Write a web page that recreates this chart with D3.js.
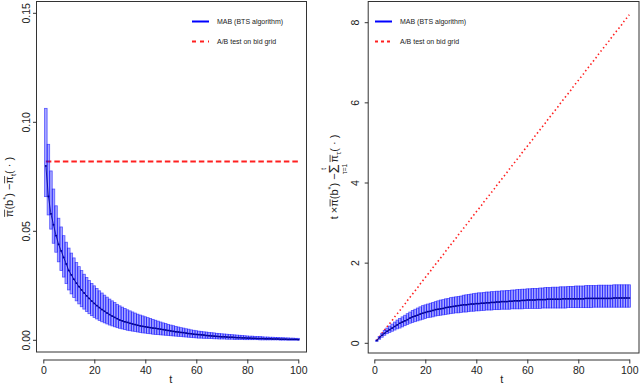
<!DOCTYPE html>
<html>
<head>
<meta charset="utf-8">
<script src="https://cdn.jsdelivr.net/npm/d3@7"></script>
<style>
  body { margin: 0; background: #fff; }
  svg { display: block; font-family: "Liberation Sans", Arial, sans-serif; }
</style>
</head>
<body>
<svg id="chart" width="640" height="384"></svg>
<script>
// time steps t = 1..100
const steps = d3.range(1, 101);

// left panel: instantaneous regret (mean and band), A/B test level
const abLevel = 0.082;
const mabMean = [
  0.0800, 0.0660, 0.0580, 0.0530, 0.0480, 0.0440, 0.0410, 0.0380, 0.0350, 0.0320,
  0.0300, 0.0280, 0.0262, 0.0246, 0.0231, 0.0217, 0.0204, 0.0192, 0.0180, 0.0169,
  0.0159, 0.0150, 0.0141, 0.0133, 0.0125, 0.0118, 0.0111, 0.0105, 0.0099, 0.0093,
  0.0089, 0.0085, 0.0082, 0.0078, 0.0075, 0.0072, 0.0069, 0.0066, 0.0064, 0.0062,
  0.0060, 0.0058, 0.0056, 0.0055, 0.0053, 0.0051, 0.0049, 0.0047, 0.0045, 0.0043,
  0.0041, 0.0039, 0.0038, 0.0036, 0.0035, 0.0033, 0.0031, 0.0030, 0.0028, 0.0027,
  0.0026, 0.0025, 0.0024, 0.0022, 0.0021, 0.0020, 0.0019, 0.0018, 0.0017, 0.0016,
  0.0016, 0.0015, 0.0014, 0.0014, 0.0013, 0.0012, 0.0012, 0.0011, 0.0011, 0.0010,
  0.0010, 0.0009, 0.0009, 0.0008, 0.0008, 0.0008, 0.0007, 0.0007, 0.0007, 0.0006,
  0.0006, 0.0006, 0.0005, 0.0005, 0.0005, 0.0004, 0.0004, 0.0004, 0.0004, 0.0003
];
const mabUpper = [
  0.1064, 0.0899, 0.0777, 0.0694, 0.0617, 0.0560, 0.0520, 0.0480, 0.0450, 0.0423,
  0.0400, 0.0378, 0.0357, 0.0338, 0.0320, 0.0303, 0.0288, 0.0274, 0.0261, 0.0250,
  0.0238, 0.0227, 0.0217, 0.0207, 0.0198, 0.0189, 0.0181, 0.0173, 0.0165, 0.0158,
  0.0152, 0.0146, 0.0140, 0.0135, 0.0130, 0.0125, 0.0120, 0.0116, 0.0112, 0.0108,
  0.0104, 0.0100, 0.0096, 0.0092, 0.0088, 0.0084, 0.0080, 0.0077, 0.0073, 0.0070,
  0.0067, 0.0064, 0.0061, 0.0058, 0.0056, 0.0053, 0.0051, 0.0048, 0.0046, 0.0044,
  0.0042, 0.0041, 0.0039, 0.0038, 0.0036, 0.0035, 0.0034, 0.0032, 0.0031, 0.0030,
  0.0029, 0.0028, 0.0027, 0.0026, 0.0025, 0.0024, 0.0023, 0.0022, 0.0021, 0.0020,
  0.0019, 0.0019, 0.0018, 0.0017, 0.0017, 0.0016, 0.0015, 0.0015, 0.0014, 0.0014,
  0.0013, 0.0013, 0.0012, 0.0012, 0.0011, 0.0011, 0.0010, 0.0010, 0.0009, 0.0009
];
const mabLower = [
  0.0659, 0.0575, 0.0510, 0.0445, 0.0404, 0.0360, 0.0320, 0.0290, 0.0260, 0.0231,
  0.0213, 0.0196, 0.0181, 0.0167, 0.0154, 0.0143, 0.0132, 0.0122, 0.0113, 0.0105,
  0.0098, 0.0091, 0.0085, 0.0080, 0.0075, 0.0070, 0.0066, 0.0062, 0.0058, 0.0055,
  0.0052, 0.0049, 0.0046, 0.0044, 0.0042, 0.0040, 0.0038, 0.0036, 0.0034, 0.0033,
  0.0031, 0.0030, 0.0028, 0.0027, 0.0026, 0.0025, 0.0024, 0.0023, 0.0022, 0.0021,
  0.0020, 0.0019, 0.0018, 0.0017, 0.0016, 0.0015, 0.0014, 0.0013, 0.0012, 0.0011,
  0.0010, 0.0010, 0.0009, 0.0009, 0.0008, 0.0008, 0.0007, 0.0007, 0.0006, 0.0006,
  0.0006, 0.0005, 0.0005, 0.0005, 0.0004, 0.0004, 0.0004, 0.0004, 0.0003, 0.0003,
  0.0003, 0.0003, 0.0003, 0.0003, 0.0002, 0.0002, 0.0002, 0.0002, 0.0002, 0.0002,
  0.0002, 0.0002, 0.0001, 0.0001, 0.0001, 0.0001, 0.0001, 0.0001, 0.0001, 0.0001
];

// right panel: cumulative regret
const cumMean = [
  0.07, 0.14, 0.20, 0.25, 0.30, 0.34, 0.38, 0.42, 0.46, 0.50,
  0.53, 0.56, 0.59, 0.63, 0.66, 0.68, 0.70, 0.73, 0.75, 0.77,
  0.79, 0.80, 0.82, 0.84, 0.85, 0.86, 0.87, 0.89, 0.90, 0.91,
  0.92, 0.93, 0.94, 0.95, 0.96, 0.96, 0.97, 0.98, 0.98, 0.99,
  0.99, 1.00, 1.00, 1.01, 1.01, 1.02, 1.02, 1.03, 1.03, 1.04,
  1.04, 1.04, 1.05, 1.05, 1.06, 1.06, 1.06, 1.07, 1.07, 1.08,
  1.08, 1.08, 1.08, 1.09, 1.09, 1.09, 1.09, 1.10, 1.10, 1.10,
  1.10, 1.10, 1.10, 1.11, 1.11, 1.11, 1.11, 1.11, 1.11, 1.11,
  1.11, 1.11, 1.12, 1.12, 1.12, 1.12, 1.12, 1.12, 1.12, 1.12,
  1.12, 1.12, 1.12, 1.13, 1.13, 1.13, 1.13, 1.13, 1.13, 1.13
];
const cumUpper = [
  0.08, 0.17, 0.25, 0.32, 0.38, 0.43, 0.48, 0.53, 0.58, 0.62,
  0.66, 0.70, 0.74, 0.78, 0.82, 0.85, 0.88, 0.91, 0.94, 0.96,
  0.98, 1.00, 1.02, 1.04, 1.06, 1.08, 1.09, 1.11, 1.12, 1.14,
  1.15, 1.16, 1.17, 1.18, 1.20, 1.21, 1.22, 1.23, 1.24, 1.25,
  1.26, 1.26, 1.27, 1.28, 1.28, 1.29, 1.29, 1.30, 1.30, 1.31,
  1.31, 1.32, 1.32, 1.33, 1.33, 1.34, 1.34, 1.35, 1.35, 1.36,
  1.36, 1.37, 1.37, 1.37, 1.38, 1.38, 1.39, 1.39, 1.39, 1.40,
  1.40, 1.40, 1.41, 1.41, 1.41, 1.42, 1.42, 1.42, 1.43, 1.43,
  1.43, 1.43, 1.44, 1.44, 1.44, 1.44, 1.44, 1.45, 1.45, 1.45,
  1.45, 1.45, 1.45, 1.46, 1.46, 1.46, 1.46, 1.46, 1.46, 1.46
];
const cumLower = [
  0.05, 0.10, 0.15, 0.20, 0.24, 0.27, 0.30, 0.33, 0.36, 0.38,
  0.41, 0.44, 0.47, 0.50, 0.52, 0.54, 0.56, 0.58, 0.60, 0.62,
  0.64, 0.65, 0.66, 0.68, 0.69, 0.70, 0.71, 0.72, 0.73, 0.74,
  0.75, 0.76, 0.76, 0.77, 0.78, 0.78, 0.79, 0.80, 0.80, 0.81,
  0.81, 0.82, 0.82, 0.83, 0.83, 0.83, 0.84, 0.84, 0.84, 0.85,
  0.85, 0.85, 0.85, 0.86, 0.86, 0.86, 0.86, 0.86, 0.87, 0.87,
  0.87, 0.87, 0.87, 0.87, 0.87, 0.88, 0.88, 0.88, 0.88, 0.88,
  0.88, 0.88, 0.88, 0.88, 0.88, 0.89, 0.89, 0.89, 0.89, 0.89,
  0.89, 0.89, 0.89, 0.89, 0.89, 0.90, 0.90, 0.90, 0.90, 0.90,
  0.90, 0.90, 0.90, 0.90, 0.90, 0.90, 0.90, 0.90, 0.90, 0.90
];
const abCum = [
  0.08, 0.16, 0.25, 0.33, 0.41, 0.49, 0.57, 0.66, 0.74, 0.82,
  0.90, 0.98, 1.07, 1.15, 1.23, 1.31, 1.39, 1.48, 1.56, 1.64,
  1.72, 1.80, 1.89, 1.97, 2.05, 2.13, 2.21, 2.30, 2.38, 2.46,
  2.54, 2.62, 2.71, 2.79, 2.87, 2.95, 3.03, 3.12, 3.20, 3.28,
  3.36, 3.44, 3.53, 3.61, 3.69, 3.77, 3.85, 3.94, 4.02, 4.10,
  4.18, 4.26, 4.35, 4.43, 4.51, 4.59, 4.67, 4.76, 4.84, 4.92,
  5.00, 5.08, 5.17, 5.25, 5.33, 5.41, 5.49, 5.58, 5.66, 5.74,
  5.82, 5.90, 5.99, 6.07, 6.15, 6.23, 6.31, 6.40, 6.48, 6.56,
  6.64, 6.72, 6.81, 6.89, 6.97, 7.05, 7.13, 7.22, 7.30, 7.38,
  7.46, 7.54, 7.63, 7.71, 7.79, 7.87, 7.95, 8.04, 8.12, 8.20
];

const legendLabels = ["MAB (BTS algorithm)", "A/B test on bid grid"];
const xTicks = [0, 20, 40, 60, 80, 100];
const leftTicks = [0, 0.05, 0.10, 0.15];
const leftTickLabels = ["0.00", "0.05", "0.10", "0.15"];
const rightTicks = [0, 2, 4, 6, 8];

const svg = d3.select("#chart");
const ink = "#222";

// lays out a little math expression left to right, returns its width
function mathLabel(g, parts, fs) {
  let cx = 0;
  parts.forEach(p => {
    if (p.sum) {
      const s = g.append("text").attr("x", cx).attr("y", 1).attr("font-size", fs * 1.3).attr("fill", ink).text("Σ");
      const w = s.node().getComputedTextLength();
      g.append("text").attr("x", cx + w / 2).attr("y", -fs * 1.05).attr("font-size", fs * 0.6)
        .attr("text-anchor", "middle").attr("fill", ink).text(p.top);
      g.append("text").attr("x", cx + w / 2).attr("y", fs * 0.85).attr("font-size", fs * 0.6)
        .attr("text-anchor", "middle").attr("fill", ink).text(p.bot);
      cx += w + 2;
      return;
    }
    const size = (p.sup || p.sub) ? fs * 0.7 : fs;
    const yy = p.sup ? -fs * 0.45 : p.sub ? fs * 0.3 : 0;
    const el = g.append("text").attr("x", cx).attr("y", yy).attr("font-size", size).attr("fill", ink).text(p.t);
    const w = el.node().getComputedTextLength();
    if (p.bar) {
      g.append("line").attr("x1", cx + 0.3).attr("x2", cx + w).attr("y1", -fs * 0.72).attr("y2", -fs * 0.72)
        .attr("stroke", ink).attr("stroke-width", 0.8);
    }
    cx += w;
  });
  return cx;
}

function panel(o) {
  const g = svg.append("g");
  const x = d3.scaleLinear().domain([0, 100]).range(o.xr);
  const y = d3.scaleLinear().domain(o.yd).range(o.yr);
  const bw = x(1) - x(0);

  // A/B test line (under the bars)
  g.append("path")
    .datum(steps)
    .attr("fill", "none")
    .attr("stroke", "#ff2020")
    .attr("stroke-width", o.abWidth)
    .attr("stroke-dasharray", o.abDash)
    .attr("d", d3.line().x(d => x(d)).y((d, i) => y(o.ab[i])));

  // band bars
  g.selectAll("rect.bar")
    .data(steps)
    .join("rect")
      .attr("class", "bar")
      .attr("x", d => x(d) - bw / 2)
      .attr("width", bw)
      .attr("y", (d, i) => y(o.hi[i]))
      .attr("height", (d, i) => Math.max(1, y(o.lo[i]) - y(o.hi[i])))
      .attr("fill", "#0000ff")
      .attr("fill-opacity", 0.35)
      .attr("stroke", "#0000ff")
      .attr("stroke-opacity", 0.6)
      .attr("stroke-width", 0.8);

  // mean
  g.append("path")
    .datum(steps)
    .attr("fill", "none")
    .attr("stroke", "#000090")
    .attr("stroke-width", 0.8)
    .attr("d", d3.line().x(d => x(d)).y((d, i) => y(o.mean[i])));

  g.selectAll("rect.pt")
    .data(steps)
    .join("rect")
      .attr("class", "pt")
      .attr("x", d => x(d) - 0.9)
      .attr("y", (d, i) => y(o.mean[i]) - 0.8)
      .attr("width", 1.8)
      .attr("height", 1.6)
      .attr("fill", "#000090");

  // box
  g.append("rect")
    .attr("x", o.box[0] + 0.5).attr("y", o.box[1] + 0.5)
    .attr("width", o.box[2] - o.box[0]).attr("height", o.box[3] - o.box[1])
    .attr("fill", "none").attr("stroke", "#333").attr("stroke-width", 1);

  // x axis
  const xa = g.append("g")
    .attr("transform", "translate(0,359.5)")
    .call(d3.axisBottom(x).tickValues(xTicks).tickSize(4).tickSizeOuter(0).tickPadding(3));
  xa.selectAll("path, line").attr("stroke", "#333");
  xa.selectAll("text").attr("font-size", 10.5).attr("fill", ink).attr("font-family", "Liberation Sans, Arial, sans-serif");

  g.append("text")
    .attr("x", (o.xr[0] + o.xr[1]) / 2).attr("y", 382.5)
    .attr("text-anchor", "middle").attr("font-size", 11).attr("fill", ink)
    .text("t");

  // y axis, R style with vertical labels
  const bx = o.box[0] + 0.5;
  o.yTicks.forEach((v, i) => {
    g.append("line")
      .attr("x1", bx).attr("x2", bx - 3.5)
      .attr("y1", y(v)).attr("y2", y(v))
      .attr("stroke", "#333");
    g.append("text")
      .attr("transform", `translate(${o.labelX},${y(v)}) rotate(-90)`)
      .attr("text-anchor", "middle").attr("font-size", 10.5).attr("fill", ink)
      .text(o.yLabels[i]);
  });

  // y title
  const yt = g.append("g").attr("transform", `translate(${o.title[0]},${o.title[1]}) rotate(-90)`);
  const inner = yt.append("g");
  const w = mathLabel(inner, o.titleParts, 11);
  inner.attr("transform", `translate(${-w / 2},0)`);

  // legend
  const lg = g.append("g");
  legendLabels.forEach((lab, i) => {
    const ly = 21.5 + i * 20;
    lg.append("line")
      .attr("x1", o.legX).attr("x2", o.legX + 17)
      .attr("y1", ly).attr("y2", ly)
      .attr("stroke", i === 0 ? "#0000ff" : "#ff2020")
      .attr("stroke-width", 2)
      .attr("stroke-dasharray", i === 0 ? null : o.legDash);
    lg.append("text")
      .attr("x", o.legX + 25).attr("y", ly + 2.5)
      .attr("font-size", 7).attr("fill", ink)
      .text(lab);
  });
}

panel({
  xr: [43.3, 298.3],
  yd: [0, 0.15],
  yr: [340.3, 13.3],
  box: [36, 1, 306, 351.5],
  mean: mabMean, hi: mabUpper, lo: mabLower,
  ab: steps.map(() => abLevel),
  abWidth: 2, abDash: "5.5,3",
  yTicks: leftTicks, yLabels: leftTickLabels,
  labelX: 30,
  title: [12.5, 187],
  titleParts: [
    {t: "π", bar: true}, {t: "(b"}, {t: "*", sup: true}, {t: ") − "},
    {t: "π", bar: true}, {t: "t", sub: true}, {t: "( · )"}
  ],
  legX: 192, legDash: "4,4"
});

panel({
  xr: [374.3, 629.3],
  yd: [0, 8],
  yr: [343.3, 22.7],
  box: [367.7, 1, 638.5, 352.5],
  mean: cumMean, hi: cumUpper, lo: cumLower,
  ab: abCum,
  abWidth: 1.6, abDash: "1.5,2.65",
  yTicks: rightTicks, yLabels: rightTicks.map(String),
  labelX: 358.5,
  title: [338, 177],
  titleParts: [
    {t: "t × "}, {t: "π", bar: true}, {t: "(b"}, {t: "*", sup: true}, {t: ") − "},
    {sum: true, top: "t", bot: "τ=1"},
    {t: "π", bar: true}, {t: "τ", sub: true}, {t: "( · )"}
  ],
  legX: 375, legDash: "3,3"
});
</script>
</body>
</html>
